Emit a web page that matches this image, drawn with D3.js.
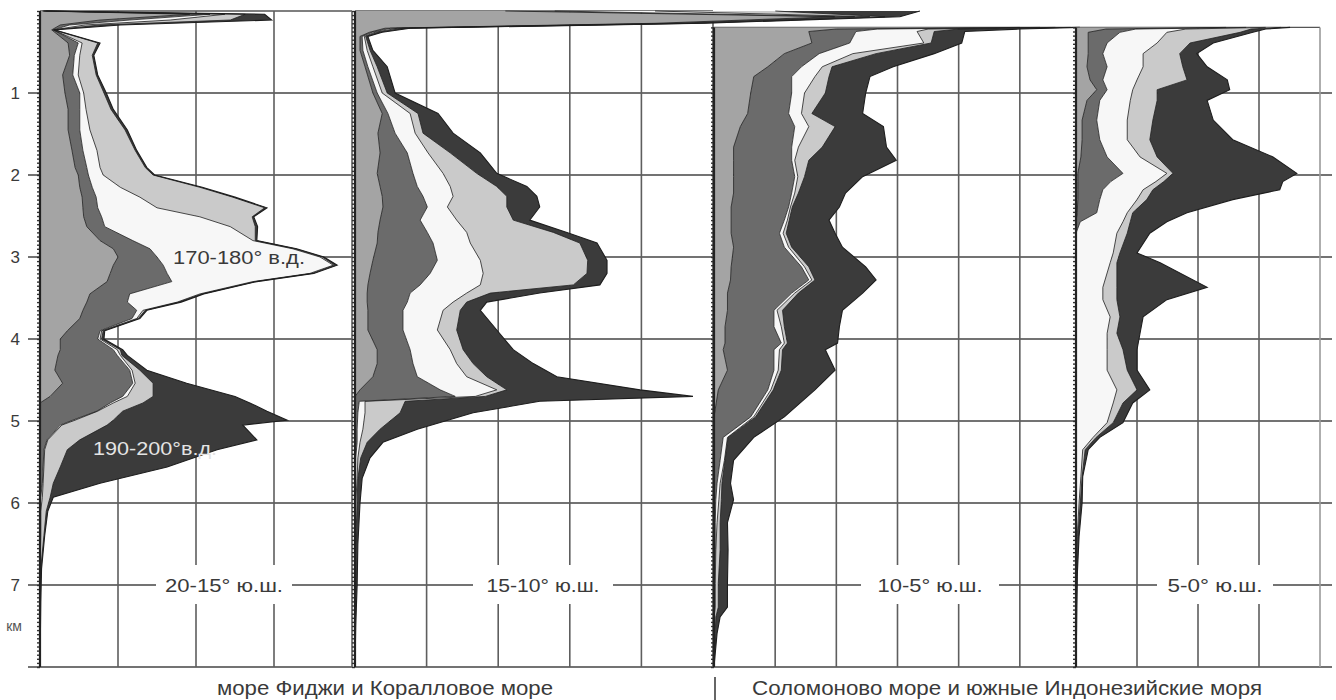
<!DOCTYPE html>
<html>
<head>
<meta charset="utf-8">
<script src="https://cdn.jsdelivr.net/npm/d3@7"></script>
<style>
  body { margin: 0; background: #fff; }
  svg { display: block; }
  text { font-family: "Liberation Sans", Arial, sans-serif; fill: #3a3a3a; }
</style>
</head>
<body>
<div id="chart"></div>
<script>
// depth ticks, km
const depthTicks = [1, 2, 3, 4, 5, 6, 7];
const depthMax = 8;

// latitude belts (panel captions) and sea groups
const beltNames = ["20-15° ю.ш.", "15-10° ю.ш.", "10-5° ю.ш.", "5-0° ю.ш."];
const seaNames = ["море Фиджи и Коралловое море", "Соломоново море и южные Индонезийские моря"];
const bandNotes = ["170-180° в.д.", "190-200°в.д."];

// rows: [depth km, cumulative edge of band 1..5]  (one grid cell = 10)
const belt20_15 = [
  [0.00, 0.3, 0.4, 0.5, 0.6, 0.8],
  [0.04, 19.2, 21.8, 23.7, 26.3, 28.8],
  [0.11, 7.7, 11.5, 16.7, 24.4, 29.7],
  [0.17, 2.6, 3.8, 5.8, 7.7, 10.3],
  [0.23, 1.5, 1.7, 1.7, 1.8, 1.8],
  [0.39, 3.6, 4.9, 5.4, 7.4, 7.7],
  [0.54, 3.8, 4.4, 5.1, 6.7, 6.9],
  [0.78, 2.9, 4.2, 4.9, 7.2, 7.4],
  [1.00, 3.2, 5.1, 5.6, 8.2, 8.5],
  [1.20, 3.6, 5.1, 5.9, 9.1, 9.4],
  [1.45, 3.6, 5.1, 6.4, 10.9, 11.2],
  [1.70, 4.1, 5.5, 7.3, 12.2, 12.4],
  [1.91, 4.5, 6.0, 7.7, 13.5, 13.7],
  [2.00, 4.9, 6.2, 8.1, 14.5, 14.7],
  [2.15, 5.1, 6.7, 10.3, 20.5, 20.8],
  [2.27, 5.4, 7.2, 12.8, 24.7, 25.0],
  [2.40, 5.5, 7.4, 15.0, 28.8, 29.1],
  [2.51, 5.6, 7.9, 20.5, 27.2, 27.4],
  [2.63, 6.0, 8.3, 24.4, 27.6, 27.9],
  [2.80, 7.7, 11.9, 27.3, 27.6, 27.8],
  [2.90, 9.4, 14.1, 32.4, 32.7, 32.9],
  [3.00, 10.0, 15.0, 35.9, 36.2, 36.4],
  [3.10, 9.4, 15.8, 37.6, 37.8, 38.1],
  [3.20, 9.0, 16.3, 34.6, 34.9, 35.1],
  [3.30, 8.6, 16.9, 27.3, 27.6, 27.8],
  [3.45, 6.4, 11.5, 20.5, 20.8, 21.0],
  [3.55, 6.0, 11.2, 17.6, 17.8, 18.1],
  [3.65, 5.5, 12.4, 13.2, 13.5, 13.7],
  [3.75, 5.1, 11.8, 12.4, 12.6, 12.8],
  [3.90, 3.5, 7.7, 7.9, 8.1, 8.3],
  [4.00, 2.6, 7.4, 7.7, 7.9, 8.2],
  [4.13, 2.6, 9.4, 9.9, 10.3, 10.6],
  [4.20, 2.3, 9.9, 10.3, 10.5, 11.2],
  [4.38, 1.9, 11.5, 11.8, 12.8, 13.7],
  [4.54, 2.9, 11.9, 12.2, 14.5, 18.8],
  [4.70, 1.3, 10.6, 11.2, 14.5, 25.0],
  [4.78, 0, 9.0, 9.4, 13.2, 26.9],
  [4.88, 0, 7.3, 7.4, 10.6, 29.1],
  [4.99, 0, 4.2, 4.5, 9.4, 31.7],
  [5.05, 0, 2.6, 2.8, 8.6, 26.0],
  [5.23, 0, 0.9, 1.0, 5.1, 27.8],
  [5.35, 0, 0.5, 0.6, 3.5, 22.7],
  [5.56, 0, 0.4, 0.5, 2.6, 16.3],
  [5.76, 0, 0.3, 0.4, 1.7, 7.7],
  [5.93, 0, 0.1, 0.3, 1.3, 1.7],
  [6.10, 0, 0, 0.1, 0.8, 1.0],
  [6.40, 0, 0, 0.1, 0.5, 0.6],
  [6.80, 0, 0, 0, 0.1, 0.2],
  [7.20, 0, 0, 0, 0, 0.1],
  [8.00, 0, 0, 0, 0, 0]
];

const belt15_10 = [
  [0.00, 21.0, 27.9, 41.9, 58.7, 78.9],
  [0.07, 67.0, 69.8, 71.9, 74.0, 76.1],
  [0.15, 41.9, 44.7, 46.1, 47.5, 48.9],
  [0.21, 4.2, 5.0, 5.9, 6.7, 7.7],
  [0.26, 2.0, 2.4, 2.8, 3.2, 3.8],
  [0.31, 0.7, 1.0, 1.3, 1.5, 1.8],
  [0.48, 0.7, 1.1, 1.7, 2.1, 2.5],
  [0.68, 1.4, 1.8, 2.5, 3.1, 4.5],
  [1.00, 2.5, 3.1, 3.8, 4.5, 5.6],
  [1.25, 3.8, 4.6, 7.7, 8.8, 11.6],
  [1.49, 3.2, 5.6, 8.4, 9.5, 13.7],
  [1.73, 3.5, 7.3, 10.2, 13.3, 17.5],
  [1.98, 3.1, 8.1, 12.3, 17.0, 19.8],
  [2.14, 3.5, 8.7, 13.3, 19.8, 24.0],
  [2.26, 3.8, 9.5, 13.7, 21.2, 25.4],
  [2.39, 3.9, 10.1, 12.9, 21.2, 25.8],
  [2.55, 3.5, 9.1, 14.2, 22.1, 24.4],
  [2.70, 3.2, 10.1, 15.6, 27.7, 29.6],
  [2.83, 3.1, 10.9, 16.1, 31.4, 33.8],
  [3.04, 2.5, 11.5, 17.5, 32.5, 35.2],
  [3.20, 2.1, 10.5, 17.9, 32.4, 35.2],
  [3.34, 1.8, 9.1, 17.5, 30.5, 34.2],
  [3.44, 1.7, 7.7, 15.6, 18.9, 25.8],
  [3.55, 1.7, 7.3, 13.7, 15.6, 18.4],
  [3.65, 1.8, 6.7, 12.3, 14.7, 17.5],
  [3.89, 1.8, 6.7, 11.5, 14.2, 19.8],
  [4.13, 3.1, 7.7, 13.3, 15.1, 22.1],
  [4.30, 3.1, 8.1, 14.2, 16.5, 24.9],
  [4.46, 2.5, 8.7, 15.6, 18.4, 28.2],
  [4.62, 0.7, 11.9, 19.8, 21.2, 39.8],
  [4.70, 0, 14.0, 16.8, 18.2, 47.2],
  [4.76, 0, 0.6, 1.4, 7.0, 25.8],
  [4.90, 0, 0.4, 1.4, 6.3, 16.5],
  [5.10, 0, 0.3, 1.1, 3.5, 8.7],
  [5.26, 0, 0.3, 0.7, 1.7, 3.9],
  [5.45, 0, 0.1, 0.4, 0.8, 2.1],
  [5.70, 0, 0.1, 0.3, 0.4, 1.0],
  [6.00, 0, 0, 0.1, 0.3, 0.7],
  [6.50, 0, 0, 0, 0.1, 0.4],
  [7.00, 0, 0, 0, 0, 0.3],
  [7.50, 0, 0, 0, 0, 0.1],
  [8.00, 0, 0, 0, 0, 0]
];

const belt10_5 = [
  [0.20, 50.0, 53.3, 55.8, 58.3, 59.8],
  [0.22, 20.0, 26.7, 35.0, 40.0, 50.0],
  [0.25, 15.5, 23.2, 33.2, 36.0, 41.0],
  [0.39, 16.0, 22.2, 34.3, 35.5, 40.5],
  [0.52, 11.5, 17.2, 22.7, 26.5, 36.0],
  [0.68, 8.8, 14.3, 17.7, 19.3, 29.3],
  [0.80, 6.5, 12.7, 16.5, 18.8, 25.5],
  [1.00, 6.0, 12.7, 14.8, 18.2, 24.8],
  [1.25, 5.5, 12.2, 14.3, 16.0, 24.3],
  [1.41, 4.3, 13.2, 15.5, 19.8, 27.7],
  [1.66, 3.2, 12.7, 13.8, 17.7, 28.2],
  [1.82, 3.2, 12.7, 13.2, 15.5, 29.8],
  [2.02, 3.2, 13.2, 13.7, 14.8, 24.3],
  [2.22, 3.2, 12.7, 13.2, 13.8, 21.5],
  [2.39, 2.8, 12.2, 12.5, 12.8, 20.5],
  [2.55, 2.8, 11.5, 12.0, 12.3, 18.8],
  [2.71, 2.8, 10.7, 11.3, 11.8, 19.8],
  [2.88, 3.2, 11.5, 12.2, 12.7, 21.0],
  [3.12, 2.8, 14.3, 14.8, 15.5, 24.8],
  [3.28, 2.7, 15.5, 16.0, 16.5, 26.5],
  [3.44, 2.2, 12.7, 13.2, 13.8, 24.3],
  [3.65, 2.2, 9.8, 10.3, 11.2, 21.0],
  [3.85, 1.8, 9.8, 11.0, 11.5, 20.5],
  [4.05, 1.8, 11.0, 11.5, 12.0, 20.2],
  [4.13, 1.5, 9.8, 10.7, 11.2, 18.2],
  [4.38, 2.2, 9.8, 10.5, 11.0, 19.8],
  [4.62, 0.7, 8.8, 9.3, 9.7, 16.5],
  [4.95, 0, 6.0, 6.5, 6.8, 11.5],
  [5.20, 0, 1.5, 2.2, 2.3, 6.5],
  [5.48, 0, 1.0, 1.7, 1.8, 3.2],
  [5.76, 0, 0.5, 1.0, 1.3, 2.7],
  [5.96, 0, 0.3, 0.8, 1.2, 3.2],
  [6.24, 0, 0.2, 0.5, 1.0, 2.2],
  [6.57, 0, 0.2, 0.3, 1.0, 2.3],
  [6.98, 0, 0, 0.2, 0.7, 2.2],
  [7.27, 0, 0, 0.2, 0.7, 2.2],
  [7.39, 0, 0, 0, 0.3, 1.0],
  [7.59, 0, 0, 0, 0.2, 0.5],
  [8.00, 0, 0, 0, 0, 0]
];

const belt5_0 = [
  [0.20, 24.6, 27.9, 31.1, 33.6, 35.1],
  [0.22, 4.9, 9.8, 18.0, 28.7, 31.1],
  [0.26, 2.0, 7.2, 14.9, 26.9, 29.0],
  [0.39, 2.0, 5.1, 13.3, 18.7, 22.5],
  [0.52, 2.0, 4.4, 11.0, 17.0, 19.8],
  [0.68, 1.8, 5.1, 11.0, 17.5, 21.5],
  [0.84, 2.3, 4.4, 10.0, 18.2, 24.8],
  [0.96, 3.4, 5.1, 9.3, 13.3, 25.2],
  [1.09, 1.8, 3.9, 8.9, 13.3, 21.5],
  [1.33, 1.0, 3.4, 8.4, 12.6, 22.5],
  [1.57, 1.0, 3.9, 8.4, 12.1, 25.7],
  [1.78, 0.8, 5.1, 10.5, 13.3, 32.3],
  [1.98, 0.3, 7.7, 14.9, 15.9, 36.2],
  [2.08, 0.3, 5.7, 13.1, 14.4, 33.9],
  [2.18, 0.3, 4.4, 11.0, 12.6, 33.4],
  [2.30, 0.3, 3.9, 10.0, 11.6, 25.7],
  [2.46, 0.2, 3.4, 8.4, 9.3, 18.2],
  [2.57, 0, 0.7, 7.7, 8.9, 14.9],
  [2.71, 0, 0, 6.7, 8.4, 12.1],
  [2.95, 0, 0, 6.1, 7.2, 10.0],
  [3.07, 0, 0, 5.6, 6.7, 13.8],
  [3.37, 0, 0, 4.4, 6.7, 21.5],
  [3.52, 0, 0, 4.4, 6.7, 14.9],
  [3.73, 0, 0, 5.6, 7.2, 11.0],
  [3.93, 0, 0, 5.1, 6.7, 10.5],
  [4.13, 0, 0, 5.1, 7.7, 10.0],
  [4.38, 0, 0, 5.1, 8.4, 10.0],
  [4.62, 0, 0, 6.7, 10.0, 12.1],
  [4.78, 0, 0, 6.1, 7.7, 9.3],
  [5.02, 0, 0, 5.1, 6.1, 7.7],
  [5.20, 0, 0, 2.8, 3.3, 3.9],
  [5.35, 0, 0, 1.1, 1.5, 2.0],
  [5.68, 0, 0, 0.8, 1.0, 1.1],
  [6.00, 0, 0, 0.5, 0.7, 1.0],
  [6.41, 0, 0, 0.2, 0.3, 0.5],
  [6.90, 0, 0, 0, 0.2, 0.2],
  [7.50, 0, 0, 0, 0, 0.1],
  [8.00, 0, 0, 0, 0, 0]
];

const beltData = [belt20_15, belt15_10, belt10_5, belt5_0];

// layout (pixels) for each panel; gridEnd = where this panel's frame is cut
const panels = [
  {x0: 40,   width: 312, cols: 4, top: 0,   gridEnd: 352,  labelCx: 224,  labelW: 118, gapW: 136},
  {x0: 355,  width: 358, cols: 5, top: 0,   gridEnd: 713,  labelCx: 543,  labelW: 113, gapW: 140},
  {x0: 714,  width: 367, cols: 6, top: 0.2, gridEnd: 1076, labelCx: 930,  labelW: 105, gapW: 138},
  {x0: 1076, width: 244, cols: 4, top: 0.2, gridEnd: 1332, labelCx: 1215, labelW: 95,  gapW: 116}
];
const bandFill = ["#a4a4a4", "#6b6b6b", "#f7f7f7", "#cacaca", "#3b3b3b"];

const W = 1336, H = 700;
const svg = d3.select("#chart").append("svg").attr("width", W).attr("height", H);

const y = d3.scaleLinear().domain([0, depthMax]).range([11, 667]);

const gridLayer = svg.append("g");
const labelLayer = svg.append("g");
const areaLayer = svg.append("g");
const axisLayer = svg.append("g");

panels.forEach((p, i) => {
  const x = d3.scaleLinear().domain([0, p.cols * 10]).range([p.x0, p.x0 + p.width]);
  const xStart = i === 0 ? 28 : p.x0;

  // horizontal grid
  gridLayer.selectAll(null)
    .data(depthTicks.concat([depthMax]))
    .join("line")
    .attr("x1", xStart).attr("x2", p.gridEnd)
    .attr("y1", d => y(d)).attr("y2", d => y(d))
    .attr("stroke", "#454545").attr("stroke-width", 1.6);

  // top line
  gridLayer.append("line")
    .attr("x1", p.x0).attr("x2", Math.min(p.gridEnd, p.x0 + p.width))
    .attr("y1", y(p.top)).attr("y2", y(p.top))
    .attr("stroke", "#555").attr("stroke-width", 1.4);

  // vertical grid (only inside the visible frame)
  gridLayer.selectAll(null)
    .data(d3.range(1, p.cols + 1).filter(d => x(d * 10) <= p.gridEnd + 1))
    .join("line")
    .attr("x1", d => x(d * 10)).attr("x2", d => x(d * 10))
    .attr("y1", y(p.top)).attr("y2", y(depthMax))
    .attr("stroke", d => (i === 3 && d === p.cols) ? "#9a9a9a" : "#5e5e5e")
    .attr("stroke-width", 1.6);

  // caption with white gap
  const cy = y(7);
  labelLayer.append("rect")
    .attr("x", p.labelCx - p.gapW / 2).attr("y", cy - 20)
    .attr("width", p.gapW).attr("height", 39)
    .attr("fill", "#fff");
  labelLayer.append("text")
    .attr("x", p.labelCx).attr("y", cy + 7)
    .attr("text-anchor", "middle")
    .attr("font-size", 19)
    .attr("textLength", p.labelW).attr("lengthAdjust", "spacingAndGlyphs")
    .text(beltNames[i]);

  // stacked bands
  const rows = beltData[i];
  for (let k = 0; k < 5; k++) {
    const area = d3.area()
      .y(r => y(r[0]))
      .x0(r => x(k === 0 ? 0 : r[k]))
      .x1(r => x(r[k + 1]));
    areaLayer.append("path")
      .datum(rows)
      .attr("d", area)
      .attr("fill", bandFill[k]);
  }
  for (let k = 1; k <= 5; k++) {
    const edge = d3.line()
      .y(r => y(r[0]))
      .x(r => x(r[k]));
    areaLayer.append("path")
      .datum(rows)
      .attr("d", edge)
      .attr("fill", "none")
      .attr("stroke", "#1e1e1e")
      .attr("stroke-width", k === 5 ? 1.1 : 0.8);
  }

  // left axis with dense minor ticks
  const minor = d3.axisLeft(y)
    .tickValues(d3.range(p.top, depthMax + 0.001, 0.05))
    .tickSize(3).tickFormat("");
  const ax = axisLayer.append("g")
    .attr("transform", `translate(${p.x0},0)`)
    .call(minor);
  ax.select(".domain").remove();
  ax.selectAll(".tick line").attr("stroke", "#333").attr("stroke-width", 1.4);
  axisLayer.append("line")
    .attr("x1", p.x0).attr("x2", p.x0)
    .attr("y1", y(p.top)).attr("y2", y(depthMax))
    .attr("stroke", "#222").attr("stroke-width", 2.2);
});

// depth labels on the first panel
const yAxis = d3.axisLeft(y).tickValues(depthTicks).tickSize(0).tickPadding(20);
const ya = axisLayer.append("g").attr("transform", "translate(40,0)").call(yAxis);
ya.select(".domain").remove();
ya.selectAll(".tick text")
  .attr("font-size", 17)
  .attr("font-family", "Liberation Sans, Arial, sans-serif")
  .attr("fill", "#3a3a3a");
axisLayer.append("text")
  .attr("x", 14).attr("y", y(7.5) + 5)
  .attr("text-anchor", "middle")
  .attr("font-size", 14)
  .style("fill", "#555")
  .text("км");

// notes inside bands
axisLayer.append("text")
  .attr("x", 239).attr("y", y(3) + 7)
  .attr("text-anchor", "middle").attr("font-size", 18)
  .attr("textLength", 132).attr("lengthAdjust", "spacingAndGlyphs")
  .text(bandNotes[0]);
axisLayer.append("text")
  .attr("x", 155).attr("y", y(5.33) + 7)
  .attr("text-anchor", "middle").attr("font-size", 18)
  .attr("textLength", 124).attr("lengthAdjust", "spacingAndGlyphs")
  .style("fill", "#e4e4e4")
  .text(bandNotes[1]);

// sea group captions
axisLayer.append("text")
  .attr("x", 385).attr("y", 695)
  .attr("text-anchor", "middle").attr("font-size", 20)
  .attr("textLength", 336).attr("lengthAdjust", "spacingAndGlyphs")
  .text(seaNames[0]);
axisLayer.append("text")
  .attr("x", 1007).attr("y", 695)
  .attr("text-anchor", "middle").attr("font-size", 20)
  .attr("textLength", 510).attr("lengthAdjust", "spacingAndGlyphs")
  .text(seaNames[1]);
axisLayer.append("line")
  .attr("x1", 715).attr("x2", 715).attr("y1", 677).attr("y2", 700)
  .attr("stroke", "#333").attr("stroke-width", 1.5);
</script>
</body>
</html>
